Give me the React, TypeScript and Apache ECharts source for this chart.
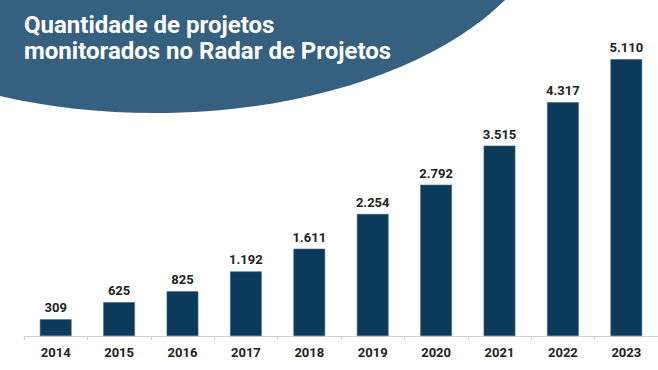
import React, { useEffect, useRef } from "react";
import * as echarts from "echarts";

const years = ["2014", "2015", "2016", "2017", "2018", "2019", "2020", "2021", "2022", "2023"];
const projects = [309, 625, 825, 1192, 1611, 2254, 2792, 3515, 4317, 5110];
const titleLines = ["Quantidade de projetos", "monitorados no Radar de Projetos"];

const fmt = (v: number) => v.toLocaleString("pt-BR");

export default function App() {
  const ref = useRef<HTMLDivElement>(null);
  useEffect(() => {
    if (!ref.current) return;
    const chart = echarts.init(ref.current, undefined, { renderer: "svg" });
    chart.setOption({
      animation: false,
      backgroundColor: "#ffffff",
      grid: { left: 24, right: -5, top: 11, bottom: 34, containLabel: false },
      xAxis: {
        type: "category",
        data: years,
        axisLine: { show: true, lineStyle: { color: "#d0d0d0", width: 1 } },
        axisTick: { show: true, alignWithLabel: false, length: 4, lineStyle: { color: "#d0d0d0" } },
        axisLabel: {
          color: "#222222",
          fontFamily: "Roboto",
          fontWeight: "bold",
          fontSize: 13,
          margin: 10,
        },
      },
      yAxis: {
        type: "value",
        min: 0,
        max: 6000,
        show: false,
        splitLine: { show: false },
      },
      series: [
        {
          type: "bar",
          data: projects,
          barWidth: "50%",
          itemStyle: { color: "#0c3a5a", borderColor: "#3f6582", borderWidth: 0.6 },
          label: {
            show: true,
            position: "top",
            distance: 5,
            color: "#222222",
            fontFamily: "Roboto",
            fontWeight: "bold",
            fontSize: 13,
            formatter: (p: any) => fmt(p.value),
          },
        },
      ],
      graphic: [
        {
          type: "ellipse",
          z: 10,
          shape: { cx: 155, cy: -106, rx: 400, ry: 219 },
          style: { fill: "#35607f" },
        },
        ...titleLines.map((line, i) => ({
          type: "text",
          z: 11,
          x: 24,
          y: 13 + i * 26,
          style: {
            text: line,
            fill: "#ffffff",
            font: "bold 24px Roboto",
            lineHeight: 24,
          },
        })),
      ],
    });
    return () => chart.dispose();
  }, []);
  return (
    <div
      ref={ref}
      style={{ position: "absolute", left: 0, top: 0, width: 658, height: 370 }}
    />
  );
}
